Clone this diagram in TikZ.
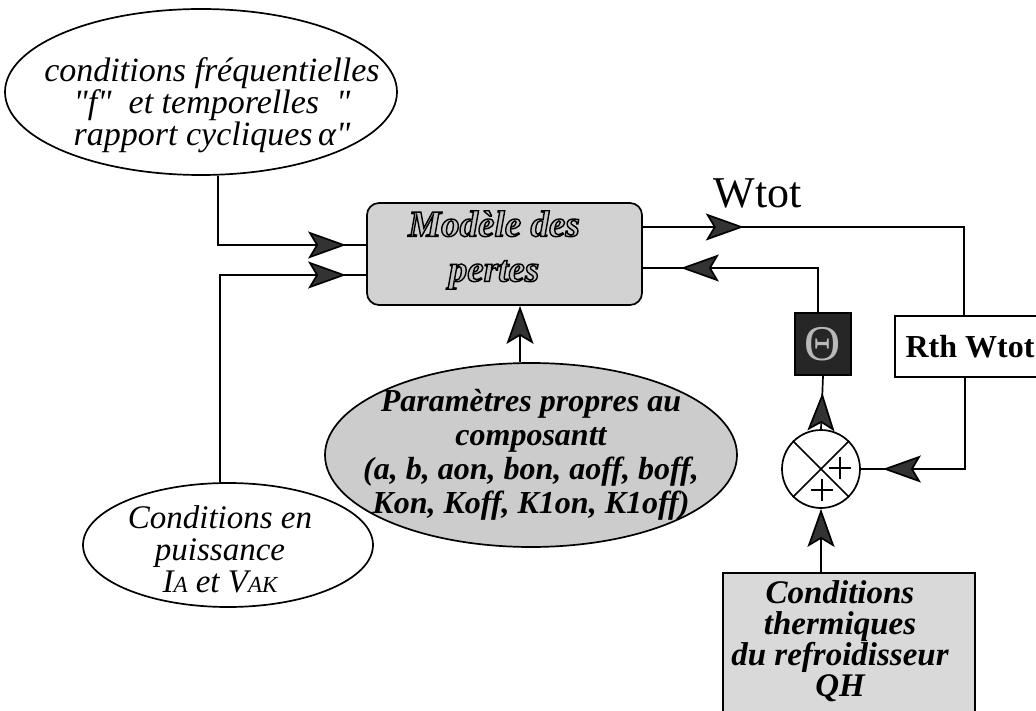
\documentclass[tikz,border=0pt]{standalone}
\usepackage{fontspec}
\setmainfont{Liberation Serif}
\usetikzlibrary{arrows.meta,shapes.geometric,decorations.markings,calc}
\newcommand\fsz[2]{\fontsize{#1}{#2}\selectfont}
\newcommand\sq{\textquotedbl}
\newcommand\outlined[1]{\special{pdf:literal direct 2 Tr 1.4 w 0 G}#1\special{pdf:literal direct 0 Tr}}
\tikzset{
  tipshape/.tip={Stealth[length=38pt,width=27pt,inset=8pt,fill=black!80]},
  arr/.style={-tipshape},
  midarr/.style={postaction={decorate},
    decoration={markings, mark=at position #1 with {\arrow{tipshape}}}},
  txt/.style={align=center, inner sep=0pt},
  bubble/.style={ellipse, draw, inner sep=0pt},
}
\begin{document}
\begin{tikzpicture}[x=1pt,y=-1pt,line width=1.7pt]
\useasboundingbox (0,0) rectangle (1036,711);

% top ellipse
\node[bubble, fill=white, minimum width=392pt, minimum height=166pt] (freq) at (201,92) {};
\node[txt, font=\itshape\fsz{34}{32}] (freqtxt) at (212,105)
  {conditions fréquentielles\\\sq f\sq\ \ et temporelles\ \ \sq\\rapport cycliques\,α\sq};

% model box
\node[draw, rounded corners=12pt, fill=gray!35, minimum width=275pt, minimum height=102pt] (mod) at (504.5,254) {};
\node[txt, font=\bfseries\itshape\fsz{37}{45}, text=gray!45] (modtxt) at (494,250)
  {\outlined{Modèle des}\\\outlined{pertes}};

% parameters ellipse
\node[bubble, fill=gray!40, minimum width=412pt, minimum height=184pt] (param) at (531,455) {};
\node[txt, font=\bfseries\itshape\fsz{32}{34}] (paramtxt) at (531,455)
  {Paramètres propres au\\composantt\\(a, b, aon, bon, aoff, boff,\\Kon, Koff, K1on, K1off)};

% power ellipse
\node[bubble, fill=white, minimum width=290pt, minimum height=124pt] (puiss) at (228,545) {};
\node[txt, font=\itshape\fsz{33}{32}] (puisstxt) at (220,549)
  {Conditions en\\puissance\\I{\fsz{23}{23}A} et V{\fsz{23}{23}AK}};

% output label
\node[anchor=base west, inner sep=0pt, font=\fsz{44}{44}] (wtot) at (713,208) {Wtot};

% theta box
\node[draw, fill=black!85, minimum width=56pt, minimum height=62pt, inner sep=0pt,
      font=\fsz{50}{50}, text=gray!55] (theta) at (823,344) {Θ};

% Rth box
\node[draw, fill=white, minimum width=150pt, minimum height=61pt, inner sep=0pt,
      font=\bfseries\fsz{32}{32}] (rth) at (970,346.5) {Rth Wtot};

% summing junction
\node[circle, draw, fill=white, minimum size=78pt, inner sep=0pt] (sum) at (821,469) {};
\draw (sum.north west) -- (sum.south east);
\draw (sum.north east) -- (sum.south west);
\draw[line width=2.8pt] (829,468) -- (851,468) (840,457) -- (840,479);
\draw[line width=2.8pt] (811,490) -- (833,490) (822,479) -- (822,501);

% thermal conditions box
\node[draw, fill=gray!30, minimum width=252pt, minimum height=150pt, anchor=north, inner sep=0pt] (therm) at (849,572) {};
\node[txt, font=\bfseries\itshape\fsz{33}{31}] (thermtxt) at (840,641)
  {Conditions\\thermiques\\du refroidisseur\\QH};

% connectors
\draw[midarr=-20pt] ($(freq.south)+(17,0)$) |- ($(mod.west)+(0,-9)$);
\draw[midarr=-20pt] ($(puiss.north)+(-8,0)$) |- ($(mod.west)+(0,21)$);
\draw[arr] ($(param.north)+(-11,0)$) -- ($(mod.south)+(15.5,0)$);
\draw[midarr=101pt] ($(mod.east)+(0,-27)$) -| ($(rth.north)+(-6,0)$);
\draw[midarr=-38pt] ($(theta.north)+(-5,0)$) |- ($(mod.east)+(0,14)$);
\draw[midarr=-17pt] (sum.north) -- (theta.south);
\draw[midarr=-22pt] ($(rth.south)+(-5,0)$) |- (sum.east);
\draw[arr] (therm.north -| sum) -- (sum.south);
\end{tikzpicture}
\end{document}
